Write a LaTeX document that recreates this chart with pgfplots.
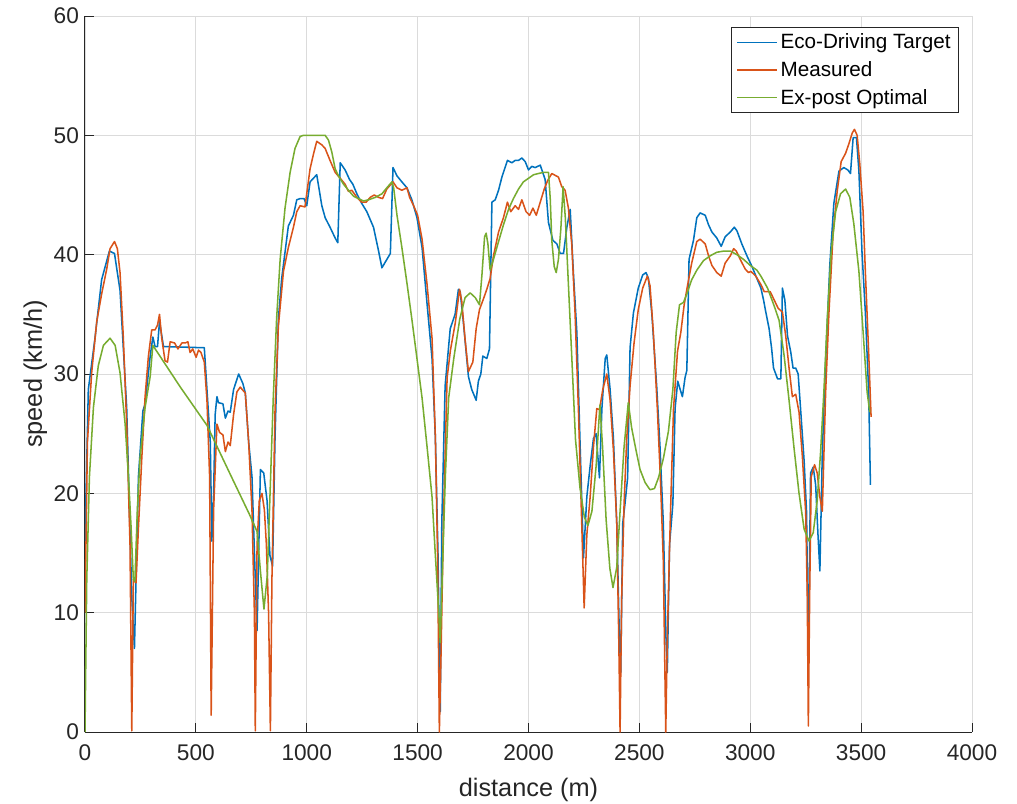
\documentclass[border=0pt]{standalone}
\usepackage{fontspec}
\setmainfont{Liberation Sans}
\usepackage{pgfplots}
\pgfplotsset{compat=1.18}
\definecolor{mlblue}{rgb}{0,0.447,0.741}
\definecolor{mlorange}{rgb}{0.85,0.325,0.098}
\definecolor{mlgreen}{rgb}{0.466,0.674,0.188}
\definecolor{mlaxis}{rgb}{0.15,0.15,0.15}

\begin{document}
\begin{tikzpicture}
\path[use as bounding box] (-63.75pt,-53.25pt) rectangle (699pt,549pt);
\begin{axis}[
 scale only axis, width=665.25pt, height=537pt,
 xmin=0, xmax=4000, ymin=0, ymax=60,
 axis x line*=bottom, axis y line*=left,
 xtick={0,500,...,4000}, ytick={0,10,...,60},
 /pgf/number format/assume math mode=true,
 /pgf/number format/set thousands separator={},
 tick label style={font=\fontsize{17}{20}\selectfont, color=mlaxis},
 xticklabel style={yshift=-6pt},
 yticklabel style={xshift=-1pt},
 label style={font=\fontsize{19}{22}\selectfont, color=mlaxis},
 xlabel={distance (m)}, ylabel={speed (km/h)},
 xlabel style={yshift=-6pt}, ylabel style={yshift=-2pt},
 axis line style={draw=mlaxis, line width=0.75pt, -},
 tick style={draw=mlaxis, line width=0.6pt},
 tick align=inside, major tick length=7pt,
 grid=major, grid style={draw=black!14, line width=0.6pt},
 legend cell align=left,
 legend style={at={(0.9853,0.985)}, anchor=north east, draw=mlaxis, line width=0.6pt,
  font=\fontsize{15.5}{18}\selectfont, row sep=4pt, inner xsep=4pt, inner ysep=3pt},
 legend image code/.code={\draw[#1] (0cm,0cm) -- (1.05cm,0cm);},
]
\addplot[mlblue, line width=1.15pt, line join=round] coordinates {
(0,16)(15,28.7)(45,33.0)(75,37.9)(110,40.3)(133,40.1)(158,37.0)(188,27.2)(211,11.3)(223,7.0)
(241,21.4)(261,26.9)(271,27.5)(294,31.5)(306,33.1)(316,32.3)(327,32.3)(336,34.4)(354,32.3)(538,32.2)
(550,28.7)(565,24.3)(572,16)(580,20)(587,26.6)(595,28.1)(602,27.6)(622,27.5)(633,26.3)(645,26.9)
(655,26.8)(670,28.7)(693,30.0)(712,29.2)(723,28.4)(738,24.3)(753,21.4)(768,12.8)(776,8.5)(791,22.0)
(806,21.7)(821,19.4)(834,14.8)(846,13.9)(857,24.7)(872,34.6)(887,38.0)(917,42.4)(940,43.3)(955,44.6)
(970,44.7)(988,44.7)(1000,44.1)(1015,46.1)(1045,46.7)(1068,44.1)(1083,43.1)(1105,42.3)(1128,41.4)(1140,41.0)
(1151,47.7)(1173,47.1)(1193,46.3)(1208,45.9)(1226,45.1)(1248,44.3)(1271,43.6)(1301,42.3)(1324,40.3)(1339,38.9)
(1377,40.1)(1389,47.3)(1407,46.6)(1429,46.1)(1452,45.6)(1474,44.6)(1497,43.1)(1520,40.6)(1542,36.0)(1565,31.3)
(1580,24.7)(1592,14.8)(1602,1.7)(1609,17.5)(1624,29.0)(1647,33.8)(1669,35.0)(1684,37.1)(1692,36.9)(1707,34.2)
(1729,29.8)(1744,28.7)(1764,27.8)(1774,29.4)(1785,30.0)(1794,31.5)(1812,31.3)(1824,32.1)(1835,44.4)(1850,44.6)
(1865,45.4)(1880,46.5)(1905,47.9)(1925,47.7)(1940,47.9)(1955,47.9)(1970,48.1)(1985,47.8)(2000,47.1)(2015,47.4)
(2030,47.3)(2053,47.5)(2075,46.3)(2090,42.7)(2110,41.2)(2128,40.9)(2143,40.1)(2158,40.1)(2173,42.3)(2188,43.8)
(2203,38.3)(2218,33.5)(2233,23.9)(2248,14.6)(2263,19.7)(2278,22.3)(2293,24.6)(2305,25.0)(2320,21.3)(2331,27.1)
(2346,31.3)(2353,31.6)(2368,28.7)(2383,24.6)(2398,17.5)(2410,7.9)(2416,5)(2425,17.5)(2435,19.1)(2447,21.3)
(2458,32.2)(2473,35.1)(2495,37.2)(2515,38.3)(2530,38.5)(2541,38.0)(2556,35.1)(2578,29.0)(2593,23.9)(2608,17.5)
(2620,7.9)(2626,5)(2636,15.7)(2651,19.1)(2661,27.1)(2673,29.4)(2684,28.7)(2694,28.1)(2706,29.7)(2714,30.3)
(2724,39.6)(2744,41.2)(2759,43.1)(2774,43.5)(2797,43.3)(2812,42.5)(2827,41.9)(2849,41.4)(2869,40.7)(2887,41.5)
(2910,41.9)(2928,42.3)(2940,42.0)(2962,40.9)(2985,39.9)(3008,39.0)(3030,38.0)(3048,37.2)(3060,36.2)(3070,35.2)
(3085,33.8)(3096,32.2)(3105,30.5)(3123,29.6)(3138,29.6)(3145,37.2)(3156,36.2)(3168,33.2)(3183,31.8)(3193,30.5)
(3205,30.5)(3216,30.0)(3228,26.8)(3243,22.7)(3254,18.4)(3262,5.9)(3272,21.7)(3284,22.2)(3295,20.7)(3305,16.7)
(3314,13.5)(3325,23.4)(3340,31.1)(3359,39.2)(3377,44.3)(3400,47.0)(3422,47.3)(3440,47.1)(3452,46.8)(3464,49.8)
(3479,49.8)(3490,47.0)(3504,40.2)(3519,35.2)(3534,28.5)(3542,20.7)};
\addlegendentry{Eco-Driving Target}
\addplot[mlorange, line width=1.15pt, line join=round] coordinates {
(0,10)(11,24.3)(30,30.1)(53,34.4)(75,36.7)(98,38.8)(113,40.5)(133,41.1)(146,40.5)(158,38.5)
(173,33.0)(188,25.8)(203,15.7)(211,0.1)(218,12.8)(230,12.5)(241,17.1)(256,22.9)(271,28.1)(286,31.5)
(301,33.7)(316,33.7)(327,34.1)(336,35.0)(346,33.0)(361,31.1)(372,31.0)(384,32.7)(404,32.6)(419,32.1)
(437,32.6)(452,32.6)(464,32.7)(474,31.8)(486,32.1)(501,31.4)(512,32.0)(523,31.8)(538,31.0)(550,27.8)
(562,21.4)(569,1.4)(580,18.6)(595,25.8)(607,25.1)(622,24.9)(633,23.5)(645,24.3)(655,24.0)(670,26.6)
(685,28.5)(700,28.9)(723,28.4)(738,24.3)(753,18.6)(764,9.9)(768,0.1)(776,15.7)(786,19.4)(798,20.0)
(809,18.6)(818,15.7)(828,9.9)(836,0.1)(843,12.8)(857,27.0)(872,34.0)(895,38.6)(917,40.6)(940,42.3)
(955,43.6)(970,44.1)(992,44.0)(1015,47.2)(1030,48.4)(1045,49.5)(1068,49.2)(1083,48.9)(1105,47.9)(1128,46.9)
(1151,46.4)(1173,45.9)(1188,45.3)(1203,45.4)(1226,44.8)(1248,44.4)(1268,44.4)(1286,44.8)(1304,45.0)(1324,44.8)
(1342,44.7)(1361,45.5)(1389,46.1)(1407,45.6)(1429,45.4)(1452,45.6)(1464,44.8)(1482,44.1)(1500,43.3)(1520,41.3)
(1542,37.6)(1565,33.0)(1580,24.7)(1590,14.8)(1598,0)(1605,6.0)(1617,18.1)(1633,29.7)(1648,32.0)(1670,34.3)
(1689,37.1)(1699,36.1)(1714,32.9)(1729,30.2)(1749,31.0)(1764,33.8)(1779,35.4)(1797,36.3)(1812,37.1)(1827,38.0)
(1842,39.9)(1865,41.9)(1887,43.1)(1905,44.4)(1920,43.6)(1940,44.1)(1955,43.8)(1970,44.6)(1989,43.6)(2005,43.3)
(2020,43.9)(2035,43.3)(2053,44.4)(2071,45.5)(2086,46.2)(2105,46.8)(2135,46.5)(2150,45.7)(2165,45.4)(2180,43.9)
(2195,40.9)(2210,35.1)(2225,27.1)(2240,17.5)(2251,10.4)(2263,16.5)(2278,19.7)(2293,23.9)(2308,27.1)(2320,27.0)
(2335,28.7)(2353,30.0)(2368,27.8)(2383,23.6)(2398,17.5)(2407,7.9)(2413,0)(2420,11.1)(2431,19.1)(2443,24.6)
(2458,29.0)(2476,32.6)(2495,35.4)(2515,37.2)(2536,38.2)(2548,37.4)(2563,33.5)(2581,27.1)(2596,20.7)(2608,14.3)
(2619,0)(2626,7.9)(2639,17.5)(2654,27.1)(2672,31.9)(2687,33.5)(2702,35.8)(2717,37.4)(2736,39.3)(2759,41.1)
(2774,41.3)(2797,40.9)(2812,39.9)(2827,39.1)(2849,38.5)(2869,38.2)(2887,39.3)(2910,39.9)(2925,40.5)(2937,40.3)
(2955,39.6)(2977,38.8)(2992,38.5)(3003,38.6)(3025,38.2)(3048,37.5)(3063,36.9)(3090,36.9)(3108,36.2)(3126,35.5)
(3145,35.2)(3160,33.2)(3175,30.5)(3190,28.1)(3205,28.3)(3220,26.8)(3235,23.1)(3250,18.4)(3257,11.6)(3262,0.5)
(3268,11.6)(3275,21.4)(3290,22.4)(3302,21.7)(3314,19.7)(3325,18.5)(3340,28.5)(3355,35.2)(3374,41.9)(3392,45.3)
(3410,47.8)(3430,48.5)(3445,49.3)(3460,50.2)(3470,50.5)(3482,50.0)(3494,47.6)(3509,43.6)(3519,38.6)(3534,31.8)
(3545,26.4)};
\addlegendentry{Measured}
\addplot[mlgreen, line width=1.15pt, line join=round] coordinates {
(0,0)(8,12.8)(20,21.4)(38,27.2)(60,30.7)(83,32.4)(113,33.0)(136,32.4)(158,30.1)(181,25.8)
(196,21.4)(208,17.1)(218,12.8)(225,12.6)(236,18.6)(248,22.9)(271,27.2)(294,29.8)(306,32.4)(430,28.9)
(550,25.7)(660,21.4)(740,18.3)(776,16.8)(791,13.5)(807,10.3)(822,13.1)(834,19.7)(849,28.0)(864,34.6)
(880,39.6)(902,43.9)(925,46.9)(947,48.9)(970,49.9)(985,50)(1083,50)(1098,49.6)(1113,48.6)(1128,47.2)
(1143,46.6)(1166,45.9)(1188,45.4)(1211,44.9)(1233,44.7)(1256,44.5)(1279,44.6)(1309,44.8)(1339,45.1)(1361,45.6)
(1384,46.1)(1392,45.6)(1407,43.3)(1429,40.6)(1452,37.6)(1474,34.6)(1497,31.3)(1520,28.0)(1542,24.0)(1565,19.7)
(1580,14.8)(1595,10.1)(1602,7.5)(1614,14.8)(1625,21.4)(1640,28.0)(1663,31.3)(1690,34.6)(1714,36.4)(1737,36.8)
(1760,36.4)(1779,35.8)(1790,38.3)(1802,41.5)(1809,41.8)(1817,40.9)(1827,38.7)(1842,39.6)(1865,41.1)(1887,42.5)
(1910,43.8)(1932,44.7)(1955,45.5)(1977,46.1)(2000,46.4)(2023,46.7)(2045,46.8)(2068,46.9)(2090,46.9)(2098,44.7)
(2105,41.2)(2116,39.0)(2125,38.5)(2135,39.6)(2146,42.2)(2156,45.7)(2166,43.1)(2180,37.5)(2195,31.5)(2212,24.5)
(2232,20.5)(2252,18.0)(2268,17.3)(2286,18.5)(2305,22.3)(2322,27.4)(2334,23.9)(2350,17.8)(2367,13.7)(2381,12.1)
(2398,13.8)(2413,18.5)(2431,23.9)(2450,27.6)(2465,25.5)(2485,23.6)(2503,22.0)(2526,20.9)(2548,20.3)(2568,20.4)
(2586,21.3)(2608,22.9)(2631,25.2)(2651,28.7)(2666,33.5)(2681,35.8)(2699,36.0)(2714,36.7)(2736,37.9)(2759,38.7)
(2789,39.5)(2819,39.9)(2849,40.2)(2880,40.3)(2910,40.3)(2940,40.0)(2970,39.6)(3000,39.1)(3030,38.7)(3048,38.2)
(3078,37.2)(3108,35.7)(3130,34.5)(3153,31.5)(3175,27.8)(3198,23.7)(3220,20.0)(3243,17.0)(3265,16.0)(3284,16.7)
(3302,19.4)(3317,23.4)(3332,28.5)(3347,34.5)(3365,40.2)(3385,43.6)(3407,45.1)(3430,45.5)(3449,44.8)(3467,42.6)
(3490,38.6)(3509,33.5)(3527,28.5)(3539,26.8)};
\addlegendentry{Ex-post Optimal}
\end{axis}
\end{tikzpicture}
\end{document}
